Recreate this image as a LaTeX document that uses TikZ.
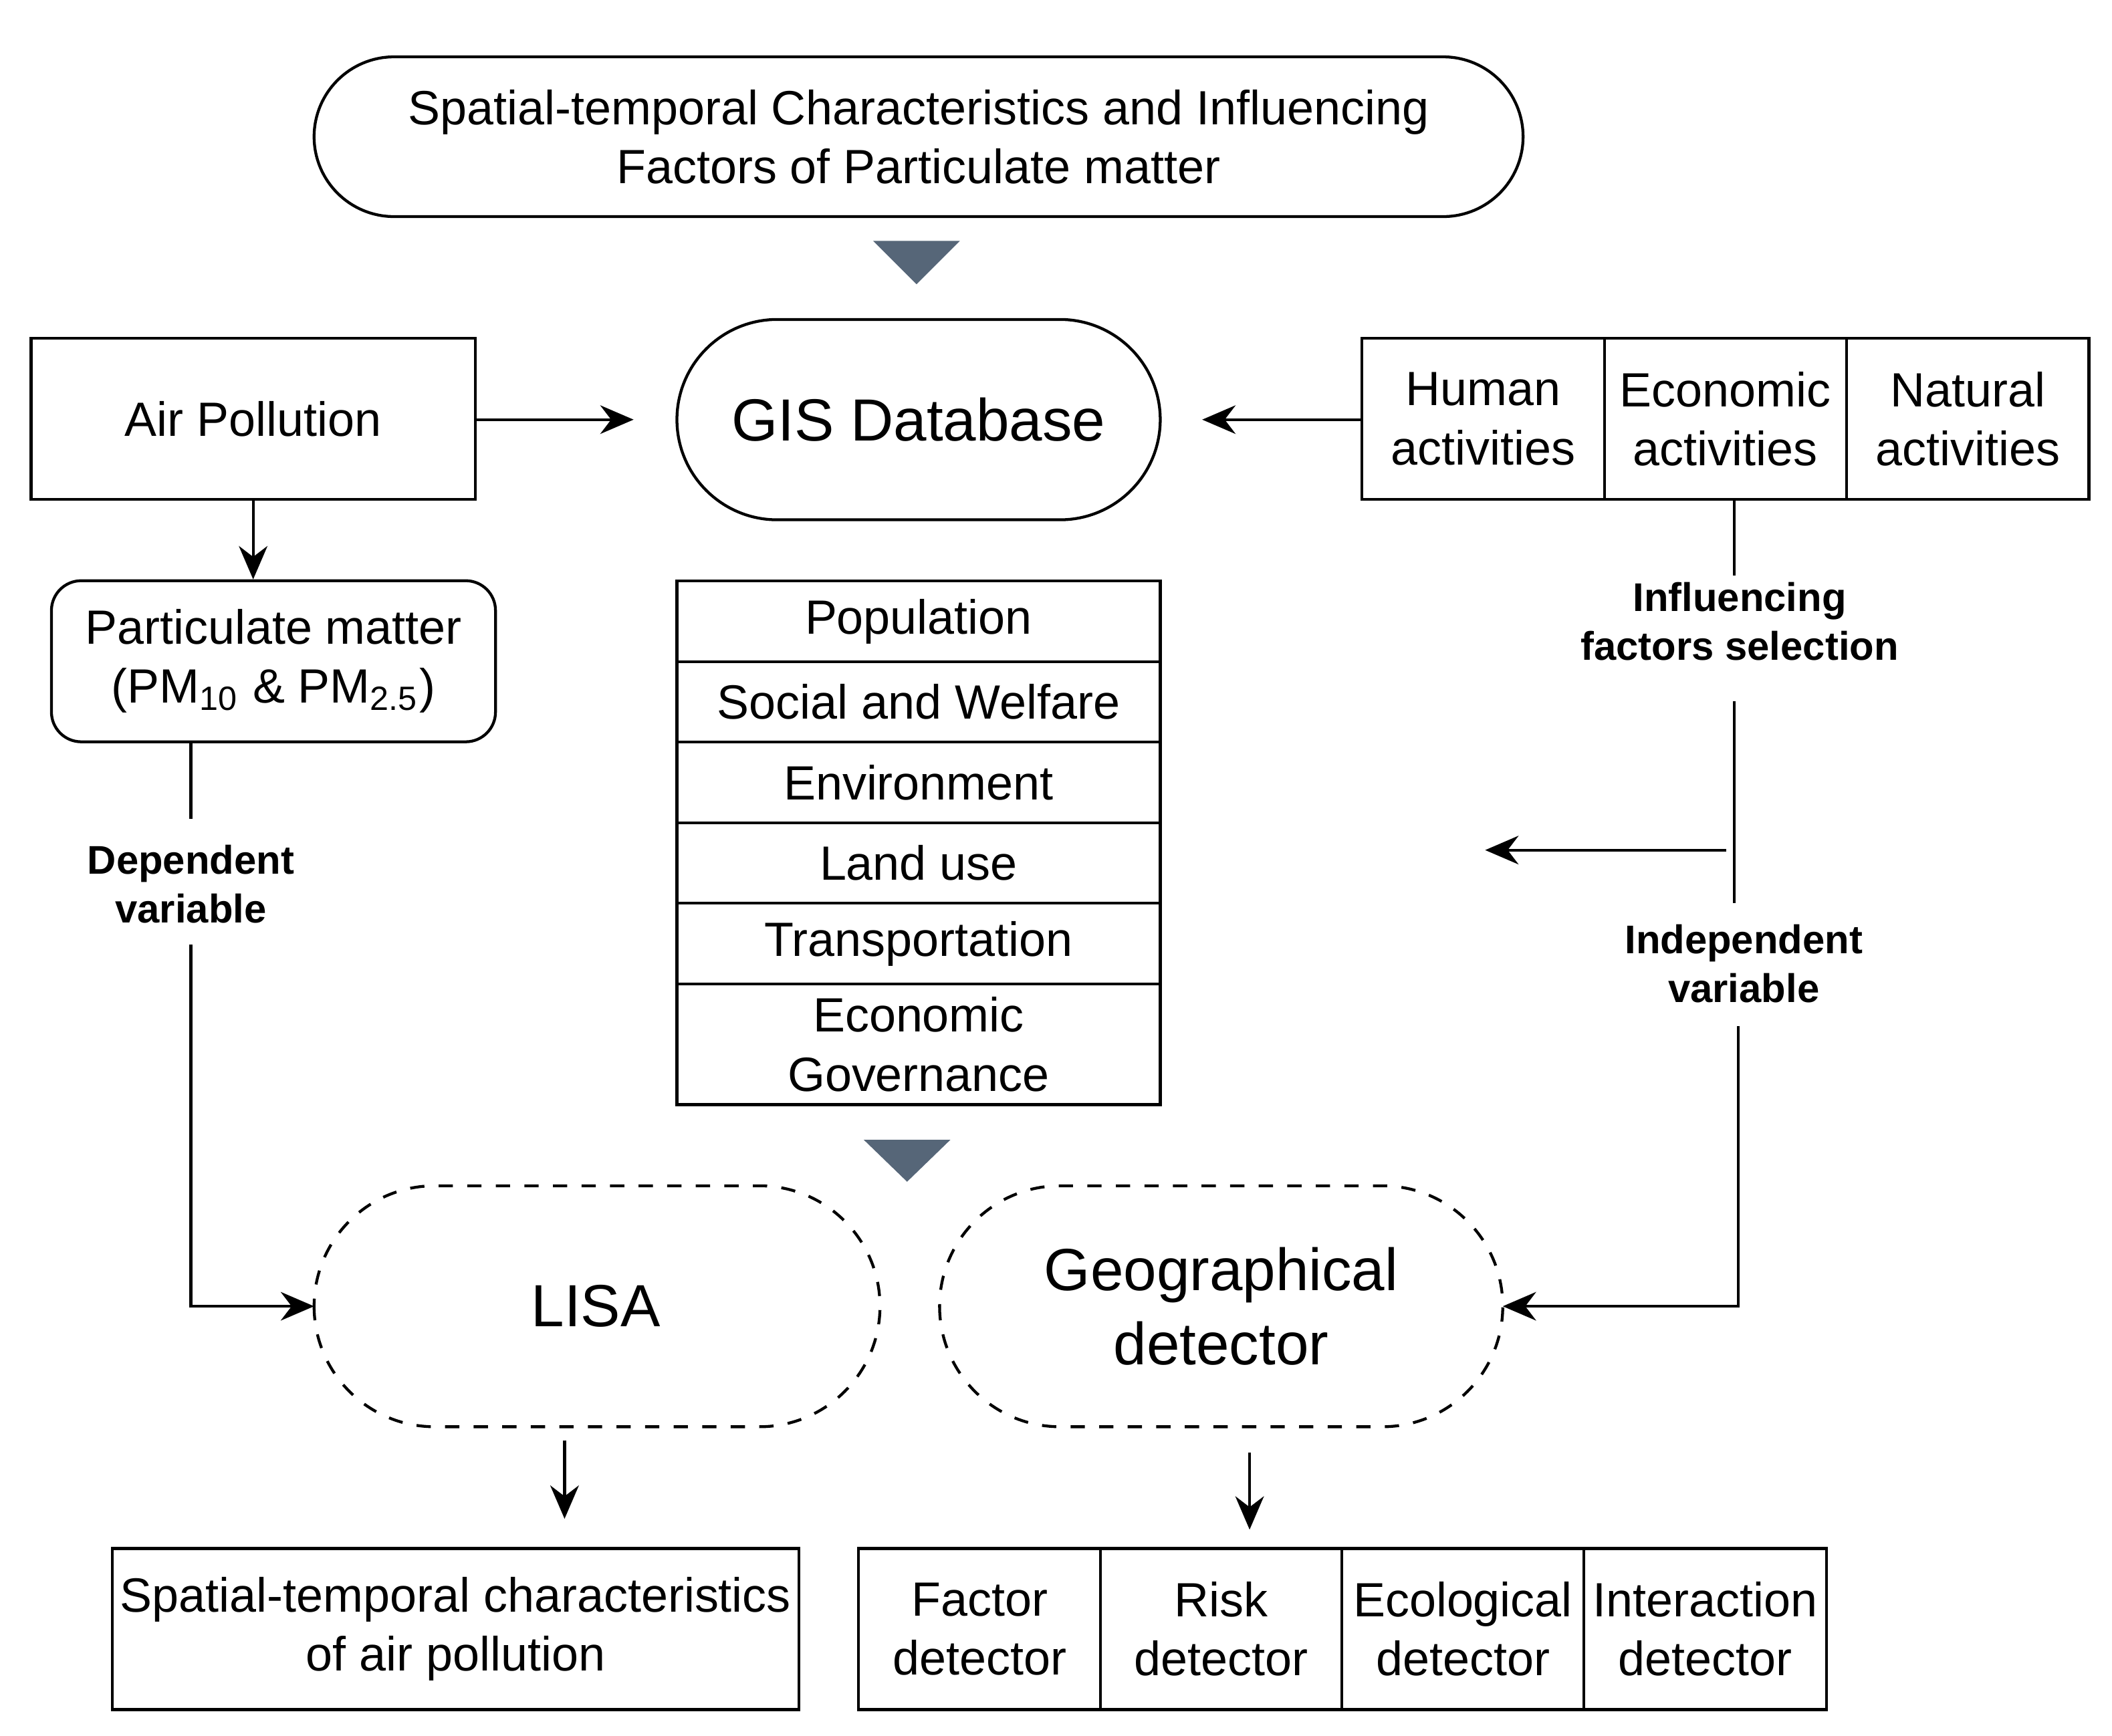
\documentclass[tikz,border=0pt]{standalone}
\usepackage{fontspec}
\setmainfont{Liberation Sans}
\usetikzlibrary{arrows.meta}
\begin{document}
\begin{tikzpicture}[x=0.01cm,y=-0.01cm,
  txt/.style={font=\fontsize{10.1}{12.4}\selectfont,align=center},
  lab/.style={font=\fontsize{8.4}{10.2}\selectfont\bfseries,align=center},
  arr/.style={-{Stealth[length=7pt,width=6pt]},line width=0.6pt},
  ln/.style={line width=0.6pt}]
\useasboundingbox (0,0) rectangle (1560,1282);
\definecolor{tric}{RGB}{86,102,120}
\draw[ln,rounded corners=0.59cm] (232,42) rectangle (1125,160);
\node[txt] (toptxt) at (678.5,101) {Spatial-temporal Characteristics and Influencing\\Factors of Particulate matter};
\fill[tric] (645,178) -- (709,178) -- (677,210) -- cycle;
\draw[ln] (23,250) rectangle (351,369);
\node[txt] (airt) at (187,309.5) {Air Pollution};
\draw[ln,rounded corners=0.74cm] (500,236) rectangle (857,384);
\node[font=\fontsize{12.5}{14}\selectfont] (gis) at (678.5,310) {GIS Database};
\coordinate (gisL) at (468,310); \coordinate (gisR) at (888,310);
% right table
\draw[ln] (1006,250) rectangle (1543,369);
\draw[ln] (1185,250) -- (1185,369) (1364,250) -- (1364,369);
\node[txt] (hum) at (1095.5,309.5) {Human\\activities};
\node[txt] (eco) at (1274.5,309.5) {Economic\\activities};
\node[txt] (nat) at (1453.5,309.5) {Natural\\activities};
\coordinate (airR) at (351,310); \coordinate (tabL) at (1006,310);
\draw[arr] (airR) -- (gisL);
\draw[arr] (tabL) -- (gisR);
% particulate
\draw[ln,rounded corners=0.22cm] (38,429) rectangle (366,548);
\node[txt] (pm) at (202,488.5) {Particulate matter\\(PM\textsubscript{10} \& PM\textsubscript{2.5})};
\coordinate (a1) at (187,369); \coordinate (a2) at (187,428);
\draw[arr] (a1) -- (a2);
\node[lab] (dep) at (141,653) {Dependent\\variable};
\coordinate (d1) at (141,548); \coordinate (d2) at (141,605); \coordinate (d3) at (141,698); \coordinate (d4) at (141,965);
\coordinate (lisaL) at (232,965);
\draw[ln] (d1) -- (d2);
\draw[arr] (d3) -- (d4) -- (lisaL);
% stacked
\draw[ln] (500,429) rectangle (857,816);
\foreach \y in {489,548,608,667,727} \draw[ln] (500,\y) -- (857,\y);
\node[txt] (s1) at (678.5,459) {Population};
\node[txt] (s2) at (678.5,518.5) {Social and Welfare};
\node[txt] (s3) at (678.5,578) {Environment};
\node[txt] (s4) at (678.5,637.5) {Land use};
\node[txt] (s5) at (678.5,697) {Transportation};
\node[txt] (s6) at (678.5,771.5) {Economic\\Governance};
\fill[tric] (638,842) -- (702,842) -- (670,873) -- cycle;
% dashed pills
\draw[ln,dashed,rounded corners=0.89cm] (232,876) rectangle (650,1054);
\node[font=\fontsize{12.5}{14}\selectfont] (lisa) at (440,965) {LISA};
\draw[ln,dashed,rounded corners=0.89cm] (694,876) rectangle (1110,1054);
\node[font=\fontsize{12.5}{15.5}\selectfont,align=center] (geo) at (902,965) {Geographical\\detector};
% right connectors
\coordinate (r1) at (1281,369); \coordinate (r2) at (1281,425);
\draw[ln] (r1) -- (r2);
\node[lab] (inf) at (1285,459) {Influencing\\factors selection};
\coordinate (r3) at (1281,518); \coordinate (r4) at (1281,667);
\draw[ln] (r3) -- (r4);
\coordinate (h1) at (1275,628); \coordinate (h2) at (1097,628);
\draw[arr] (h1) -- (h2);
\node[lab] (ind) at (1288,712) {Independent\\variable};
\coordinate (r5) at (1284,758); \coordinate (r6) at (1284,965); \coordinate (geoR) at (1110,965);
\draw[arr] (r5) -- (r6) -- (geoR);
% down arrows
\coordinate (l1) at (417,1064); \coordinate (l2) at (417,1122);
\draw[arr] (l1) -- (l2);
\coordinate (g1) at (923,1073); \coordinate (g2) at (923,1130);
\draw[arr] (g1) -- (g2);
% bottom
\draw[ln] (83,1144) rectangle (590,1263);
\node[txt] (st) at (336.5,1203.5) {Spatial-temporal characteristics\\of air pollution};
\draw[ln] (634,1144) rectangle (1349,1263);
\draw[ln] (813,1144) -- (813,1263) (991,1144) -- (991,1263) (1170,1144) -- (1170,1263);
\node[txt] (f1) at (723.5,1203.5) {Factor\\detector};
\node[txt] (f2) at (902,1203.5) {Risk\\detector};
\node[txt] (f3) at (1080.5,1203.5) {Ecological\\detector};
\node[txt] (f4) at (1259.5,1203.5) {Interaction\\detector};
\end{tikzpicture}
\end{document}
